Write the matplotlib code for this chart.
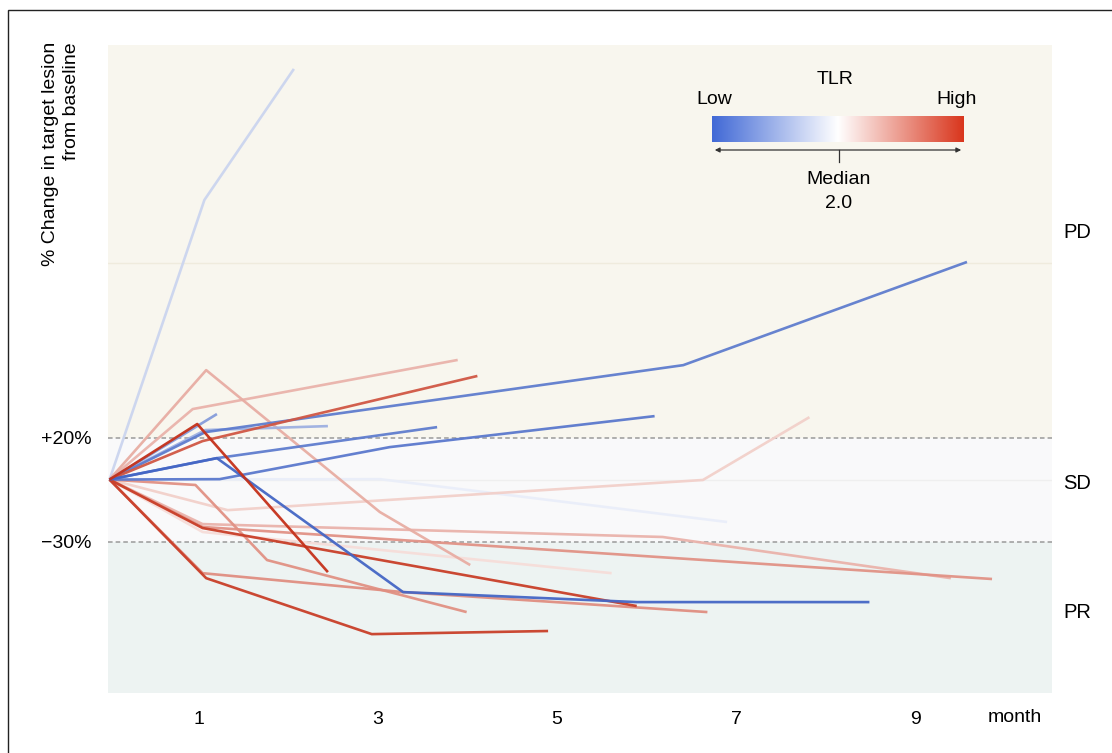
import numpy as np
import matplotlib.pyplot as plt
from matplotlib.colors import LinearSegmentedColormap, TwoSlopeNorm
from matplotlib.patches import FancyArrowPatch, Rectangle
from matplotlib.lines import Line2D

plt.rcParams['font.family'] = ['Liberation Sans', 'DejaVu Sans']

# months from baseline for each patient
patient_months = [
    [0, 1.06, 2.06],
    [0, 1.07, 6.41, 9.58],
    [0, 1.20, 3.66],
    [0, 1.20],
    [0, 1.07, 2.44],
    [0, 1.20, 3.28, 5.89, 8.49],
    [0, 3.02, 6.90],
    [0, 1.23, 3.13, 6.09],
    [0, 0.93, 3.89],
    [0, 1.08, 3.02, 4.03],
    [0, 1.04, 4.11],
    [0, 0.98, 2.44],
    [0, 1.32, 6.63, 7.82],
    [0, 0.96, 1.76, 3.99],
    [0, 1.04, 5.89],
    [0, 1.08, 2.93, 4.90],
    [0, 1.04, 3.28, 6.68],
    [0, 1.04, 6.18, 9.40],
    [0, 1.04, 9.86],
    [0, 1.04, 5.61],
]
# % change in target lesion size from baseline
patient_change = [
    [0, 134.4, 197.4],
    [0, 22.8, 55.0, 104.6],
    [0, 10.3, 25.2],
    [0, 31.5],
    [0, 23.8, 25.7],
    [0, 10.3, -54.1, -58.9, -58.9],
    [0, 0.2, -20.4],
    [0, 0.2, 15.6, 30.5],
    [0, 33.9, 57.5],
    [0, 52.6, -15.6, -41.1],
    [0, 18.5, 49.8],
    [0, 26.7, -44.5],
    [0, -14.7, -0.2, 30.0],
    [0, -2.6, -38.7, -63.7],
    [0, -23.3, -60.8],
    [0, -47.4, -74.3, -72.8],
    [0, -45.0, -54.1, -63.7],
    [0, -21.4, -27.6, -47.4],
    [0, -22.8, -47.8],
    [0, -25.2, -45.0],
]
# tumour-to-lymphocyte ratio per patient
patient_tlr = [1.5, 0.4, 0.4, 0.8, 1.05, 0.1, 1.8, 0.35,
               3.4, 3.5, 5.2, 6.0, 2.85, 4.05, 5.7, 5.7, 4.1, 3.4, 4.0, 2.6]

tlr_median = 2.0
month_ticks = [1, 3, 5, 7, 9]
pd_cut, pr_cut = 20, -30

W, H = 1112, 753


def fx(px):
    return px / W


def fy(py):
    return 1 - py / H


cmap = LinearSegmentedColormap.from_list('tlr', ['#4169d6', '#ffffff', '#d9361d'])
norm = TwoSlopeNorm(vmin=0, vcenter=tlr_median, vmax=6)


def line_color(t):
    v = float(norm(t))
    r, g, b, _ = cmap(v)
    k = 1 - 0.09 * abs(2 * v - 1)
    return (r * k, g * k, b * k)


fig = plt.figure(figsize=(W / 100, H / 100), dpi=100)
ax = fig.add_axes([fx(108), fy(693), (1052 - 108) / W, (693 - 45) / H])

# response bands
ax.axhspan(pd_cut, 250, color='#f8f6ee', lw=0, zorder=0)
ax.axhspan(pr_cut, pd_cut, color='#f9f9fa', lw=0, zorder=0)
ax.axhspan(-150, pr_cut, color='#edf3f2', lw=0, zorder=0)
ax.axhline(104, color='#efebdd', lw=1, zorder=1)
ax.axhline(0, color='#efefef', lw=1, zorder=1)
for cut in (pd_cut, pr_cut):
    ax.axhline(cut, color='#9a9a9a', lw=1.1, ls=(0, (3, 2)), zorder=1)

# spider lines, paler ones underneath
order = sorted(range(len(patient_tlr)), key=lambda k: abs(norm(patient_tlr[k]) - 0.5))
for i in order:
    ax.plot(patient_months[i], patient_change[i], color=line_color(patient_tlr[i]),
            lw=1.9, alpha=0.95, solid_capstyle='butt', zorder=2)

ax.set_xlim(-0.017, 10.53)
ax.set_ylim(-102.6, 208.9)
ax.set_xticks(month_ticks)
ax.set_xticklabels([str(m) for m in month_ticks])
ax.set_yticks([pd_cut, pr_cut])
ax.set_yticklabels(['+20%', '\u221230%'])
ax.tick_params(length=0, labelsize=14)
ax.tick_params(axis='x', pad=13)
ax.tick_params(axis='y', pad=12)
for s in ax.spines.values():
    s.set_visible(False)

# labels outside the plot
fig.text(fx(61), fy(42), '% Change in target lesion\nfrom baseline', rotation=90,
         ha='center', va='top', multialignment='right', fontsize=14, linespacing=1.3)
fig.text(fx(1015), fy(718), 'month', ha='center', va='center', fontsize=14)
for lab, yv in zip(['PD', 'SD', 'PR'], [119, -2, -64]):
    ax.text(1.012, yv, lab, transform=ax.get_yaxis_transform(), ha='left', va='center',
            fontsize=14.5)

# colour key
cax = fig.add_axes([fx(712), fy(142), 252 / W, 26 / H])
cax.imshow(np.linspace(0, 1, 256)[None, :], aspect='auto', cmap=cmap)
cax.axis('off')
fig.text(fx(835), fy(79), 'TLR', ha='center', va='center', fontsize=14)
fig.text(fx(714), fy(99), 'Low', ha='center', va='center', fontsize=14)
fig.text(fx(957), fy(99), 'High', ha='center', va='center', fontsize=14)
fig.add_artist(FancyArrowPatch((fx(712), fy(150)), (fx(964), fy(150)), transform=fig.transFigure,
                               arrowstyle='<|-|>', mutation_scale=7, color='#333333', lw=0.9))
fig.add_artist(Line2D([fx(839), fx(839)], [fy(150), fy(162)], transform=fig.transFigure,
                      color='#333333', lw=0.9))
fig.text(fx(839), fy(180), 'Median', ha='center', va='center', fontsize=14)
fig.text(fx(839), fy(203), f'{tlr_median:.1f}', ha='center', va='center', fontsize=14)

# outer frame
fig.add_artist(Rectangle((fx(8), -0.5), 1.5, fy(10) + 0.5, transform=fig.transFigure,
                         fill=False, ec='#222222', lw=1.0))

fig.savefig('out.png', dpi=100)
